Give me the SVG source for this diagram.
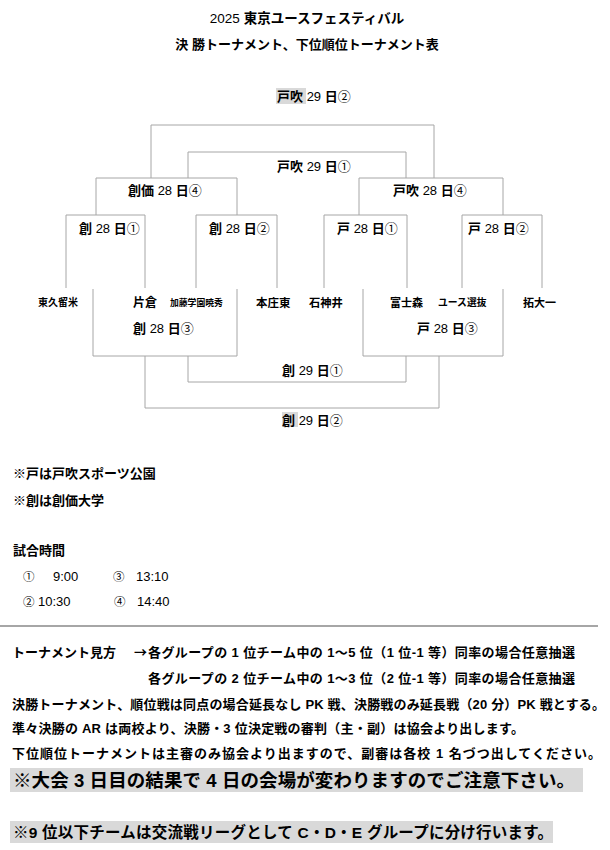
<svg xmlns="http://www.w3.org/2000/svg" width="610" height="850" viewBox="0 0 610 850">
<style>
text { font-family: "Liberation Sans", "Noto Sans CJK JP", sans-serif; fill: #000; font-size: 13px; }
.b { font-weight: bold; }
.cj { font-family: "Noto Sans CJK JP", sans-serif; }
.ln { stroke: #a6a6a6; stroke-width: 1; fill: none; }
.hl { fill: #d9d9d9; }
</style>
<rect width="610" height="850" fill="#fff"/>
<g id="title">
<text x="307" y="23" text-anchor="middle" style="font-size:13.5px">2025 <tspan class="b">東京ユースフェスティバル</tspan></text>
<text x="307" y="49" text-anchor="middle" class="b">決 勝トーナメント、下位順位トーナメント表</text>
</g>
<g id="connectors">
<path class="ln" d="M151,178 V125 H434 V178"/>
<path class="ln" d="M188,178 V152 H406 V178"/>
<path class="ln" d="M96,215 V178 H237 V215"/>
<path class="ln" d="M359,215 V178 H503 V215"/>
<path class="ln" d="M66,288 V215 H145 V288"/>
<path class="ln" d="M196,288 V215 H277 V288"/>
<path class="ln" d="M324,288 V215 H407 V288"/>
<path class="ln" d="M462,288 V215 H542 V288"/>
<path class="ln" d="M93,289 V356 H237 V289"/>
<path class="ln" d="M363,289 V356 H503 V289"/>
<path class="ln" d="M188,356 V382 H406 V356"/>
<path class="ln" d="M145,356 V408 H439 V356"/>
</g>
<g id="final">
<rect class="hl" x="276" y="88" width="30" height="16"/>
<text x="277" y="101"><tspan class="b">戸吹</tspan> 29 <tspan class="b">日</tspan>②</text>
</g>
<g id="third-place">
<text x="277" y="171"><tspan class="b">戸吹</tspan> 29 <tspan class="b">日</tspan>①</text>
</g>
<g id="semi-left">
<text x="128" y="195"><tspan class="b">創価</tspan> 28 <tspan class="b">日</tspan>④</text>
</g>
<g id="semi-right">
<text x="393" y="195"><tspan class="b">戸吹</tspan> 28 <tspan class="b">日</tspan>④</text>
</g>
<g id="qf1"><text x="79" y="233"><tspan class="b">創</tspan> 28 <tspan class="b">日</tspan>①</text></g>
<g id="qf2"><text x="209" y="233"><tspan class="b">創</tspan> 28 <tspan class="b">日</tspan>②</text></g>
<g id="qf3"><text x="337" y="233"><tspan class="b">戸</tspan> 28 <tspan class="b">日</tspan>①</text></g>
<g id="qf4"><text x="468" y="233"><tspan class="b">戸</tspan> 28 <tspan class="b">日</tspan>②</text></g>
<g id="teams">
<text x="38" y="306" class="b" style="font-size:10px">東久留米</text>
<text x="133" y="307" class="b" style="font-size:12px">片倉</text>
<text x="170" y="306" class="b" style="font-size:8.8px">加藤学園暁秀</text>
<text x="256" y="307" class="b" style="font-size:11.5px">本庄東</text>
<text x="309" y="307" class="b" style="font-size:11.3px">石神井</text>
<text x="390" y="307" class="b" style="font-size:11px">富士森</text>
<text x="438" y="306" class="b" style="font-size:9.8px">ユース選抜</text>
<text x="523" y="307" class="b" style="font-size:11px">拓大一</text>
</g>
<g id="lower-left"><text x="133" y="333"><tspan class="b">創</tspan> 28 <tspan class="b">日</tspan>③</text></g>
<g id="lower-right"><text x="417" y="333"><tspan class="b">戸</tspan> 28 <tspan class="b">日</tspan>③</text></g>
<g id="lower-5th"><text x="282" y="375"><tspan class="b">創</tspan> 29 <tspan class="b">日</tspan>①</text></g>
<g id="lower-final">
<rect class="hl" x="282" y="412" width="16" height="15"/>
<text x="282" y="425"><tspan class="b">創</tspan> 29 <tspan class="b">日</tspan>②</text>
</g>
<g id="notes">
<text x="13" y="478" class="b">※戸は戸吹スポーツ公園</text>
<text x="13" y="505" class="b">※創は創価大学</text>
<text x="13" y="555" class="b">試合時間</text>
<text x="23" y="581" style="font-size:11.5px">①</text><text x="53" y="581">9:00</text>
<text x="113" y="581" style="font-size:11.5px">③</text><text x="136" y="581">13:10</text>
<text x="23" y="606" style="font-size:11.5px">②</text><text x="38" y="606">10:30</text>
<text x="114" y="606" style="font-size:11.5px">④</text><text x="137" y="606">14:40</text>
</g>
<line x1="0" y1="626" x2="598" y2="626" stroke="#a6a6a6" stroke-width="2"/>
<g id="rules">
<text x="12" y="657" class="b">トーナメント見方</text>
<text x="134" y="657" class="b cj">→</text>
<text x="148" y="657" class="b" textLength="427" lengthAdjust="spacing">各グループの 1 位チーム中の 1〜5 位（1 位-1 等）同率の場合任意抽選</text>
<text x="148" y="683" class="b" textLength="427" lengthAdjust="spacing">各グループの 2 位チーム中の 1〜3 位（2 位-1 等）同率の場合任意抽選</text>
<text x="12" y="709" class="b" textLength="593" lengthAdjust="spacing">決勝トーナメント、順位戦は同点の場合延長なし PK 戦、決勝戦のみ延長戦（20 分）PK 戦とする。</text>
<text x="12" y="733" class="b" textLength="512" lengthAdjust="spacing">準々決勝の AR は両校より、決勝・3 位決定戦の審判（主・副）は協会より出します。</text>
<text x="12" y="758" class="b" textLength="589" lengthAdjust="spacing">下位順位トーナメントは主審のみ協会より出ますので、副審は各校 1 名づつ出してください。</text>
<rect class="hl" x="10" y="768" width="573" height="24"/>
<text x="13" y="787" class="b" style="font-size:18.5px" textLength="562" lengthAdjust="spacing">※大会 3 日目の結果で 4 日の会場が変わりますのでご注意下さい。</text>
<rect class="hl" x="10" y="821" width="543" height="22"/>
<text x="13" y="838" class="b" style="font-size:15.5px" textLength="540" lengthAdjust="spacing">※9 位以下チームは交流戦リーグとして C・D・E グループに分け行います。</text>
</g>
</svg>
